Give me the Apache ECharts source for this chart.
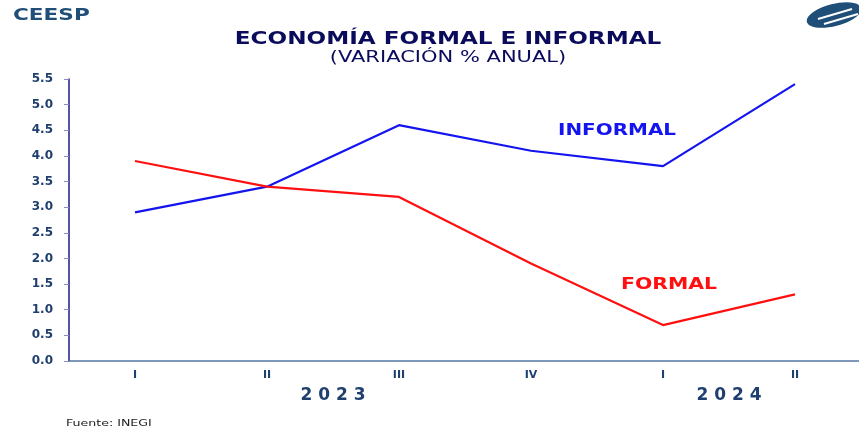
<!DOCTYPE html>
<html>
<head>
<meta charset="utf-8">
<script src="https://cdn.jsdelivr.net/npm/echarts@6/dist/echarts.min.js"></script>
<style>
  html, body { margin: 0; padding: 0; background: #fff; }
  #chart { width: 859px; height: 431px; }
</style>
</head>
<body>
<div id="chart"></div>
<script>
// trimestres
const quarters = ['I', 'II', 'III', 'IV', 'I', 'II'];
// etiquetas de año, en los límites entre trimestres
const yearLabels = ['', '', '2 0 2 3', '', '', '2 0 2 4', ''];
const informal = [2.9, 3.4, 4.6, 4.1, 3.8, 5.4];
const formal = [3.9, 3.4, 3.2, 1.9, 0.7, 1.3];

const navy = '#1f3f6e';
const font = 'DejaVu Sans';

// texto ensanchado (la imagen original está estirada en horizontal)
function wideText(text, x, y, size, color, bold, sx, align) {
  return {
    type: 'text', x: x, y: y, scaleX: sx,
    style: {
      text: text, fontFamily: font, fontSize: size,
      fontWeight: bold ? 'bold' : 'normal', fill: color,
      textAlign: align || 'left', textVerticalAlign: 'top'
    }
  };
}

const chart = echarts.init(document.getElementById('chart'));

chart.setOption({
  animation: false,
  textStyle: { fontFamily: font },
  grid: { left: 69, right: -2, top: 79, bottom: 70, outerBoundsMode: 'none' },
  xAxis: [
    {
      type: 'category',
      data: quarters,
      boundaryGap: true,
      axisLine: { lineStyle: { color: '#5577a3', width: 1.5 } },
      axisTick: { length: 4, lineStyle: { color: '#5577a3' } },
      axisLabel: { color: navy, fontWeight: 'bold', fontSize: 11, margin: 9 }
    },
    {
      type: 'category',
      data: yearLabels,
      boundaryGap: false,
      position: 'bottom',
      offset: 18,
      axisLine: { show: false },
      axisTick: { show: false },
      axisLabel: { color: navy, fontWeight: 'bold', fontSize: 17, interval: 0 }
    }
  ],
  yAxis: {
    type: 'value',
    min: 0,
    max: 5.5,
    interval: 0.5,
    splitLine: { show: false },
    axisLine: { show: true, lineStyle: { color: '#1a1a8a', width: 1.5 } },
    axisTick: { show: true, length: 5, lineStyle: { color: '#8a8ac8' } },
    axisLabel: {
      color: navy,
      fontWeight: 'bold',
      fontSize: 12,
      margin: 16,
      formatter: v => v.toFixed(1)
    }
  },
  series: [
    {
      name: 'INFORMAL',
      type: 'line',
      data: informal,
      symbol: 'none',
      lineStyle: { color: '#1414f0', width: 2.2 }
    },
    {
      name: 'FORMAL',
      type: 'line',
      data: formal,
      symbol: 'none',
      lineStyle: { color: '#ff1010', width: 2.2 }
    }
  ],
  graphic: [
    wideText('ECONOMÍA FORMAL E INFORMAL', 448, 31, 17, '#0b0b5c', true, 1.36, 'center'),
    wideText('(VARIACIÓN % ANUAL)', 448, 51, 15, '#0b0b5c', false, 1.4, 'center'),
    wideText('CEESP', 13, 8, 16, '#1f4e79', true, 1.35),
    wideText('INFORMAL', 558, 124, 15, '#1414f0', true, 1.33),
    wideText('FORMAL', 621, 278, 15, '#ff1010', true, 1.36),
    wideText('Fuente: INEGI', 66, 419, 9, '#222', false, 1.4),
    // logo
    {
      type: 'group', x: 806, y: 2,
      children: [
        { type: 'ellipse', shape: { cx: 28, cy: 13, rx: 28, ry: 11 }, rotation: 0.25, originX: 28, originY: 13, style: { fill: '#1f4e79' } },
        { type: 'line', shape: { x1: 12, y1: 17, x2: 46, y2: 7 }, style: { stroke: '#fff', lineWidth: 2 } },
        { type: 'line', shape: { x1: 18, y1: 22, x2: 52, y2: 12 }, style: { stroke: '#fff', lineWidth: 2 } }
      ]
    }
  ]
});
</script>
</body>
</html>
